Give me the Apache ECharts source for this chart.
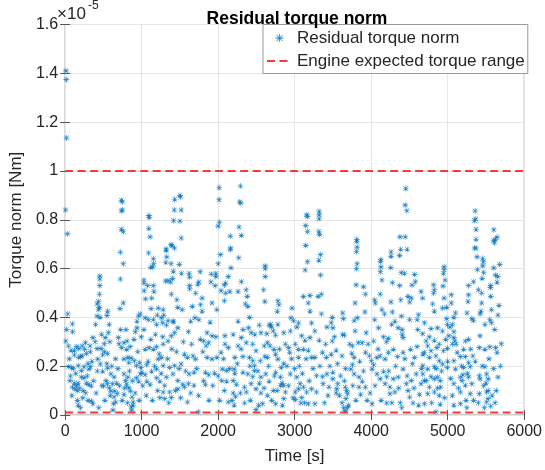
<!DOCTYPE html>
<html><head><meta charset="utf-8">
<script src="https://cdn.jsdelivr.net/npm/echarts@6/dist/echarts.min.js"></script>
<style>html,body{margin:0;padding:0;background:#fff}#c{width:545px;height:470px}</style>
</head><body><div id="c"></div>
<script>
// Residual torque norm samples: [time s, torque norm in units of 1e-5 Nm]
const residualSamples = [
[10,1.41],[15,1.374],[18,1.135],[5,0.84],[30,0.742],
[735,0.88],[748,0.873],[735,0.836],[748,0.84],[735,0.761],[760,0.752],[722,0.667],[760,0.62],[722,0.557],
[453,0.569],[453,0.557],[453,0.53],
[1094,0.817],[1098,0.81],[1094,0.765],[1111,0.73],[1090,0.664],[1154,0.641],[1158,0.62],[1145,0.607],[1120,0.605],[1030,0.553],[1030,0.54],[1080,0.53],[1154,0.53],
[1320,0.68],[1320,0.675],[1328,0.648],[1316,0.625],[1385,0.698],[1398,0.693],[1430,0.684],[1385,0.62],[1414,0.589],[1405,0.56],[1380,0.545],[1312,0.549],[1345,0.55],
[1432,0.884],[1500,0.9],[1508,0.893],[1427,0.84],[1517,0.84],[1419,0.796],[1500,0.794],[1517,0.725],[1492,0.617],[1520,0.58],[1620,0.58],[1628,0.565],[1628,0.53],
[2013,0.932],[2013,0.882],[2017,0.79],[2000,0.774],[2291,0.938],[2282,0.873],[2295,0.868],[2273,0.77],[2158,0.733],[2303,0.736],[2163,0.684],[2158,0.678],[2030,0.657],[2269,0.644],[2000,0.62],[2167,0.603],[2615,0.611],[2615,0.6],[2615,0.567],
[1765,0.587],[1910,0.577],[1970,0.58],[1970,0.567],[2132,0.567],[1748,0.545],[1905,0.545],[2098,0.54],[2303,0.546],[1961,0.53],[1735,0.535],
[3158,0.82],[3167,0.813],[3145,0.776],[3167,0.752],[3320,0.834],[3320,0.82],[3320,0.805],[3316,0.752],[3325,0.74],[3145,0.695],[3338,0.657],[3167,0.628],[3316,0.634],[3137,0.594],[3338,0.573],
[3812,0.72],[3812,0.712],[3816,0.688],[3808,0.67],[3816,0.62],[3808,0.6],[3803,0.533],[3900,0.525],
[4453,0.928],[4445,0.86],[4466,0.837],[4376,0.73],[4445,0.73],[4470,0.679],[4385,0.679],[4260,0.668],[4260,0.65],[4372,0.654],[4128,0.637],[4120,0.63],[4128,0.607],[4256,0.604],[4120,0.587],[4393,0.583],[4436,0.58],[4568,0.576],[4577,0.546],[4277,0.542],[4141,0.553],[4372,0.53],[4534,0.532],
[4953,0.607],[4953,0.595],[4945,0.58],[4966,0.553],[4816,0.533],[4940,0.528],
[5359,0.836],[5367,0.803],[5350,0.797],[5371,0.76],[5371,0.72],[5350,0.684],[5371,0.684],[5384,0.648],[5458,0.641],[5466,0.628],[5458,0.611],[5389,0.596],[5470,0.584],[5450,0.56],[5338,0.546],
[5603,0.759],[5598,0.715],[5624,0.72],[5645,0.729],[5612,0.705],[5680,0.617],[5603,0.603],[5624,0.573],[5654,0.567],[5645,0.544],[5560,0.53],[5273,0.53],
[448,0.495],[435,0.465],[418,0.455],[448,0.441],[435,0.432],[418,0.405],[457,0.4],[397,0.371],
[717,0.436],[760,0.459],[555,0.425],[547,0.407],[576,0.371],
[34,0.414],[94,0.373],[98,0.341],
[1033,0.509],[1050,0.476],[1161,0.506],[1131,0.479],
[1388,0.495],[1460,0.472],[1529,0.432],[1473,0.441],[1281,0.432],[1217,0.438],[1123,0.436],
[1046,0.398],[1089,0.391],[1153,0.391],[1204,0.409],[1260,0.398],[1290,0.409],[1345,0.387],[1418,0.384],
[9,0.303],[43,0.283],[77,0.265],[120,0.265],[149,0.28],[179,0.272],[222,0.283],[265,0.296],[325,0.283],[363,0.317],[393,0.3],[418,0.272],
[120,0.246],[179,0.236],[222,0.242],[278,0.252],[329,0.26],[470,0.272],[512,0.26],[555,0.252],[491,0.246],
[564,0.337],[525,0.317],[512,0.292],[696,0.317],[704,0.292],[739,0.276],[769,0.296],[811,0.303],[803,0.269],
[939,0.384],[961,0.405],[982,0.414],[939,0.357],[918,0.341],
[1196,0.371],[1272,0.378],[1324,0.368],[1409,0.382],[1473,0.357],[1430,0.337],[1388,0.324],[1345,0.303],[1281,0.29],
[1046,0.269],[1097,0.276],[1153,0.269],[1196,0.279],[1260,0.236],[1217,0.229],[1559,0.249],
[769,0.229],[820,0.236],[833,0.215],[863,0.233],[905,0.222],[931,0.202],[973,0.215],[990,0.195],
[43,0.198],[85,0.195],[171,0.202],[248,0.198],[299,0.211],[333,0.198],[312,0.188],[427,0.229],[461,0.209],
[213,0.182],[64,0.141],[120,0.13],[149,0.121],[171,0.13],[94,0.114],[128,0.107],[162,0.1],[213,0.155],[248,0.152],[278,0.13],[312,0.125],[342,0.118],[235,0.1],[269,0.091],[171,0.04],[201,0.03],[342,0.057],[363,0.046],
[491,0.179],[555,0.192],[598,0.168],[640,0.155],[534,0.141],[555,0.128],[504,0.119],[576,0.111],[619,0.128],[649,0.098],[589,0.08],[640,0.074],[662,0.053],[632,0.046],[598,0.098],[675,0.13],[683,0.087],
[769,0.168],[820,0.155],[790,0.141],[803,0.125],[833,0.111],[854,0.098],[769,0.084],[875,0.073],[888,0.053],[862,0.033],[888,0.04],
[982,0.168],[1003,0.175],[931,0.152],[961,0.138],
[1067,0.206],[1131,0.179],[1196,0.188],[1281,0.202],[1366,0.195],[1430,0.202],[1516,0.209],
[1046,0.165],[1067,0.138],[1110,0.125],[1196,0.152],[1238,0.138],[1324,0.155],[1409,0.168],[1473,0.141],[1537,0.125],
[1281,0.094],[1366,0.094],[1473,0.107],[1559,0.114],[1238,0.071],[1302,0.067],[1388,0.071],
[2081,0.533],
[1628,0.517],[1705,0.499],[1790,0.479],[1769,0.452],[1919,0.459],[1983,0.432],[2038,0.509],[2098,0.499],[2153,0.506],[2260,0.506],[2367,0.513],[2380,0.486],[2354,0.455],[2388,0.445],[2081,0.468],[2610,0.465],[2781,0.468],[2794,0.452],[2773,0.425],[2593,0.513],[3114,0.486],[3200,0.49],[3178,0.459],[3200,0.425],[2965,0.438],
[1641,0.384],[1697,0.398],[1748,0.391],[1790,0.425],[1662,0.445],[1611,0.341],[2260,0.384],[2410,0.4],[2538,0.368],[2687,0.371],[2696,0.36],[2666,0.368],[2781,0.371],[2952,0.398],[2986,0.387],[3050,0.377],[3221,0.377],
[1855,0.337],[1769,0.31],[1812,0.303],[1876,0.296],[1842,0.283],[1919,0.324],[1970,0.32],[2089,0.324],[2196,0.33],[2303,0.317],[2324,0.35],[2397,0.357],[2431,0.337],[2559,0.337],[2636,0.333],[2721,0.344],[2751,0.327],[2858,0.337],[2943,0.344],[3092,0.324],[3135,0.306],[3200,0.317],
[1654,0.29],[2089,0.29],[2132,0.276],[2260,0.283],[2367,0.296],[2452,0.29],[2495,0.263],[2602,0.283],[2644,0.296],[2679,0.283],[2730,0.269],[2751,0.249],[2781,0.229],[2879,0.29],[2922,0.276],[2935,0.256],[3008,0.29],[3050,0.269],[3114,0.269],[3178,0.265],
[1598,0.236],[1671,0.242],[1705,0.229],[1855,0.236],[1919,0.229],[1983,0.236],[2038,0.256],[2218,0.236],[2324,0.239],[2410,0.236],[2452,0.222],[2474,0.202],[2551,0.222],[2644,0.236],[2858,0.211],[2824,0.195],[3050,0.236],[3221,0.236],
[1620,0.168],[1684,0.175],[1833,0.175],[1876,0.165],[1953,0.171],[1611,0.128],[1684,0.121],[1833,0.125],[2055,0.188],[2111,0.182],[2209,0.188],[2218,0.171],[2324,0.175],[2388,0.168],[2474,0.182],[2452,0.157],[2559,0.155],[2623,0.168],[2666,0.138],[2751,0.175],[2815,0.155],[2836,0.13],[2858,0.121],[2815,0.121],[2943,0.168],[3028,0.155],[3071,0.128],[3050,0.107],[3008,0.094],[3114,0.114],[3157,0.094],[3221,0.107],
[2047,0.141],[2111,0.138],[2196,0.141],[2239,0.125],[2345,0.114],[2431,0.128],[2538,0.13],[2367,0.094],[2495,0.107],[2559,0.09],[2644,0.08],[2721,0.1],[1641,0.09],[1598,0.053],[2081,0.1],[2196,0.09],[2226,0.076],[2132,0.053],[2209,0.04],[2345,0.049],[2495,0.022],[2580,0.046],[2751,0.046],[2879,0.094],[2858,0.067],[3008,0.063],[3092,0.071],[3080,0.049],[3178,0.046],[1739,0.013],
[3926,0.495],[3307,0.486],[3350,0.495],[3790,0.459],[4046,0.472],[4054,0.459],[4118,0.495],[4259,0.463],[4387,0.472],[4481,0.486],[4524,0.479],[4503,0.463],[4652,0.506],[4673,0.479],
[3350,0.414],[3491,0.4],[3627,0.418],[3636,0.395],[3777,0.387],[3918,0.422],[3819,0.398],[4046,0.391],[4140,0.432],[4174,0.414],[4276,0.422],[4310,0.384],[4396,0.405],[4503,0.391],[4601,0.391],[4618,0.411],
[3264,0.344],[3320,0.306],[3478,0.378],[3422,0.36],[3491,0.303],[3499,0.357],[3627,0.33],[3649,0.327],[3790,0.344],[3935,0.337],[3832,0.296],[3883,0.296],[3755,0.283],[4033,0.303],[4097,0.357],[4161,0.32],[4225,0.314],[4268,0.371],[4353,0.357],[4404,0.35],[4404,0.33],[4417,0.317],[4609,0.35],[4673,0.333],
[3264,0.236],[3363,0.256],[3414,0.236],[3478,0.249],[3542,0.265],[3619,0.242],[3747,0.252],[3777,0.236],[3755,0.206],[3926,0.256],[3977,0.242],[4003,0.222],[4033,0.206],[4076,0.236],[4118,0.242],[4182,0.229],[4225,0.256],[4289,0.269],[4345,0.239],[4417,0.256],[4515,0.269],[4567,0.236],[4695,0.256],
[3286,0.161],[3363,0.157],[3422,0.168],[3499,0.175],[3371,0.128],[3448,0.114],[3286,0.094],[3264,0.046],[3435,0.08],[3499,0.148],[3563,0.128],[3550,0.107],[3542,0.09],[3584,0.08],[3661,0.114],[3691,0.087],[3670,0.067],[3704,0.04],[3661,0.019],
[3734,0.188],[3777,0.168],[3841,0.155],[3883,0.138],[3841,0.114],[3926,0.114],[3862,0.084],[3947,0.06],[4012,0.188],[4076,0.168],[4118,0.148],[4161,0.179],[4203,0.157],[4182,0.128],[4246,0.114],[4289,0.148],[4353,0.155],[4417,0.188],[4460,0.128],[4524,0.141],[4588,0.168],[4652,0.128],[4695,0.141],
[4246,0.087],[4310,0.094],[4203,0.049],[4481,0.1],[4503,0.073],[4546,0.049],[4631,0.084],[4012,0.046],
[4825,0.513],[4816,0.499],[4803,0.455],[4825,0.425],[4953,0.479],[5047,0.492],[5047,0.459],[4987,0.441],[4932,0.438],[5102,0.418],[5081,0.4],[4987,0.395],[5273,0.492],[5265,0.465],[5401,0.513],[5444,0.499],[5559,0.522],[5563,0.486],[5444,0.459],[5435,0.425],[5572,0.432],[5670,0.449],[5657,0.409],
[5252,0.418],[5316,0.395],[5337,0.387],[5423,0.414],[5550,0.391],[5572,0.378],[5487,0.371],[5615,0.35],
[4697,0.378],[4782,0.354],[4867,0.357],[4932,0.344],[5030,0.36],[5060,0.371],[4995,0.371],[5081,0.341],[5017,0.324],
[4718,0.303],[4825,0.306],[4889,0.29],[4859,0.276],[4739,0.283],[4782,0.263],[4974,0.31],[5081,0.317],[5094,0.303],[5060,0.29],[4995,0.273],[4944,0.263],[5230,0.303],[5273,0.31],[5209,0.269],[5423,0.324],[5414,0.276],[5487,0.269],[5550,0.279],[5627,0.276],[5700,0.292],[5645,0.256],
[5124,0.256],[5166,0.239],[5230,0.239],[5329,0.242],[5273,0.215],[5487,0.198],
[4675,0.249],[4761,0.236],[4846,0.242],[4889,0.222],[4932,0.209],[4825,0.198],[4739,0.188],[4675,0.202],[5081,0.222],[5102,0.188],[4995,0.195],[5209,0.195],[5295,0.198],
[4675,0.168],[4718,0.141],[4782,0.157],[4825,0.148],[4867,0.155],[4902,0.141],[4910,0.114],[4761,0.114],[4825,0.094],[4739,0.087],[4889,0.08],[4697,0.046],[4902,0.044],
[5081,0.128],[5166,0.155],[5188,0.141],[5200,0.165],[5273,0.155],[5230,0.121],[5316,0.128],[5295,0.087],[5166,0.094],[5166,0.046],[5081,0.04],
[5414,0.161],[5423,0.148],[5509,0.168],[5529,0.148],[5500,0.13],[5657,0.155],[5636,0.1],[5529,0.1],[5508,0.094],[5414,0.087],[5529,0.067],[5508,0.053],[5563,0.036],[4846,0.013],
[20,0.35],[55,0.23],[70,0.16],[88,0.08],[105,0.19],[140,0.17],[160,0.06],[190,0.11],[205,0.24],[230,0.07],[255,0.27],[290,0.16],[300,0.06],[350,0.22],[372,0.14],[405,0.09],[420,0.18],[440,0.03],[475,0.33],[480,0.12],
[520,0.06],[545,0.21],[585,0.3],[610,0.2],[625,0.02],[660,0.23],[690,0.19],[710,0.12],[725,0.35],[745,0.06],[780,0.11],[795,0.35],[815,0.05],[840,0.18],[850,0.28],[870,0.02],[880,0.14],[900,0.31],[915,0.09],[950,0.26],[968,0.06],[995,0.32],
[1015,0.12],[1030,0.35],[1060,0.08],[1085,0.22],[1120,0.31],[1140,0.06],[1170,0.2],[1180,0.33],[1210,0.1],[1230,0.25],[1255,0.17],[1275,0.32],[1300,0.12],[1340,0.23],[1355,0.05],[1395,0.27],[1440,0.1],[1455,0.26],[1490,0.19],[1510,0.07],[1545,0.3],[1575,0.18],
[1720,0.19],[1745,0.08],[1800,0.26],[1810,0.14],[1880,0.06],[1895,0.38],[1930,0.12],[2000,0.16],[2020,0.06],[2070,0.23],[2150,0.19],[2180,0.06],[2250,0.21],[2290,0.09],[2300,0.27],[2415,0.2],[2420,0.06],[2480,0.33],[2520,0.18],[2530,0.04],[2600,0.11],[2610,0.24],
[2660,0.2],[2700,0.06],[2735,0.16],[2770,0.1],[2800,0.27],[2840,0.04],[2900,0.2],[2920,0.12],[2960,0.23],[2980,0.07],[3000,0.19],[3030,0.36],[3060,0.2],[3100,0.17],[3130,0.05],[3150,0.23],[3190,0.14],[3240,0.19],
[3330,0.2],[3390,0.05],[3405,0.29],[3460,0.2],[3520,0.32],[3560,0.21],[3600,0.16],[3620,0.05],[3640,0.03],[3650,0.14],[3665,0.19],[3680,0.1],[3690,0.03],[3720,0.29],[3760,0.12],[3800,0.06],[3850,0.22],[3900,0.18],[3960,0.29],[3985,0.09],
[4050,0.12],[4090,0.27],[4130,0.06],[4200,0.3],[4230,0.18],[4270,0.05],[4320,0.2],[4360,0.11],[4380,0.05],[4400,0.03],[4440,0.23],[4470,0.16],[4540,0.21],[4560,0.11],[4600,0.28],[4620,0.04],[4660,0.19],
[4760,0.32],[4790,0.05],[4850,0.19],[4870,0.11],[4920,0.18],[4960,0.07],[5000,0.22],[5040,0.15],[5060,0.08],[5110,0.29],[5140,0.11],[5180,0.2],[5240,0.06],[5250,0.03],[5260,0.17],[5300,0.27],[5340,0.06],[5360,0.22],[5400,0.05],[5450,0.2],[5470,0.12],[5480,0.03],[5540,0.23],[5580,0.08],[5600,0.19],[5620,0.05],[5690,0.2]
];
// Engine expected torque range limits (units of 1e-5 Nm)
const rangeUpper = 1.0;
const rangeLower = 0.01;
const timeRange = [0, 6000];
const timeTicks = [0, 1000, 2000, 3000, 4000, 5000, 6000];
const torqueTicks = [0, 0.2, 0.4, 0.6, 0.8, 1.0, 1.2, 1.4, 1.6];

const FONT = 'Liberation Sans, Arial, Helvetica, sans-serif';
const TXT = '#262626';
const asterisk = 'path://M4.5 0 L5.5 0 L5.5 10 L4.5 10 Z M0 4.5 L10 4.5 L10 5.5 L0 5.5 Z M1 1.7 L1.7 1 L9 8.3 L8.3 9 Z M9 1.7 L1.7 9 L1 8.3 L8.3 1 Z';

const chart = echarts.init(document.getElementById('c'), null, {renderer: 'canvas'});
const gridL = 57, gridT = 24.5, gridRight = 527, gridBottom = 418;
const limitLine = (v) => [[timeRange[0], v], [timeRange[1], v]];
const RED = '#f23c3c';
const redStyle = {color: RED, width: 2, type: [8, 4.5]};
const tickStyle = {show: true, inside: true, length: 5, lineStyle: {color: '#555'}};

chart.setOption({
  animation: false,
  textStyle: {fontFamily: FONT},
  title: {
    text: 'Residual torque norm', left: (gridL + gridRight) / 2, top: 5, textAlign: 'center',
    textStyle: {fontSize: 17.5, fontWeight: 'bold', color: '#000', fontFamily: FONT}
  },
  grid: {left: gridL, top: gridT, right: 545 - gridRight, bottom: 470 - gridBottom, show: true, borderColor: '#999', borderWidth: 1, backgroundColor: '#fff'},
  legend: {
    orient: 'vertical', left: 263, top: gridT, padding: [5, 3, 4, 3], itemGap: 6,
    itemWidth: 25, itemHeight: 8, itemTextGap: 6,
    backgroundColor: '#fff', borderColor: '#999', borderWidth: 1, borderRadius: 0,
    textStyle: {fontSize: 17, color: TXT, fontFamily: FONT},
    data: [
      {name: 'Residual torque norm', icon: asterisk, itemStyle: {color: '#0072BD'}},
      {name: 'Engine expected torque range', itemStyle: {opacity: 0}}
    ]
  },
  xAxis: [{
    type: 'value', min: timeRange[0], max: timeRange[1], interval: 1000,
    axisLine: {show: false}, axisTick: tickStyle,
    splitLine: {show: true, lineStyle: {color: '#e6e6e6', width: 1}},
    axisLabel: {color: TXT, fontSize: 16, margin: 9, fontFamily: FONT,
      formatter: v => timeTicks.includes(v) ? String(v) : ''},
    name: 'Time [s]', nameLocation: 'middle', nameGap: 33,
    nameTextStyle: {fontSize: 17, color: TXT, fontFamily: FONT}
  }, {
    type: 'value', position: 'top', min: timeRange[0], max: timeRange[1], interval: 1000,
    axisLine: {show: false}, axisLabel: {show: false}, splitLine: {show: false}, axisTick: tickStyle
  }],
  yAxis: [{
    type: 'value', min: 0, max: 1.6, interval: 0.2,
    axisLine: {show: false}, axisTick: tickStyle,
    splitLine: {show: true, lineStyle: {color: '#e6e6e6', width: 1}},
    axisLabel: {color: TXT, fontSize: 16, margin: 7, fontFamily: FONT,
      formatter: v => { const t = torqueTicks.find(k => Math.abs(k - v) < 1e-9); return t === undefined ? '' : String(+t.toFixed(1)); }},
    name: 'Torque norm [Nm]', nameLocation: 'middle', nameGap: 30, nameRotate: 90,
    nameTextStyle: {fontSize: 17, color: TXT, fontFamily: FONT}
  }, {
    type: 'value', position: 'right', min: 0, max: 1.6, interval: 0.2,
    axisLine: {show: false}, axisLabel: {show: false}, splitLine: {show: false}, axisTick: tickStyle
  }],
  graphic: [
    {type: 'text', left: gridL, top: 6, style: {text: '×10', fontSize: 17, fill: TXT, fontFamily: FONT}},
    {type: 'text', left: gridL + 31, top: 0, style: {text: '-5', fontSize: 12, fill: TXT, fontFamily: FONT}}
  ],
  series: [
    {
      name: 'Residual torque norm', type: 'scatter', data: residualSamples,
      symbol: asterisk, symbolSize: 6, z: 3,
      itemStyle: {color: '#0072BD', opacity: 0.85},
      emphasis: {disabled: true}, silent: true
    },
    {
      name: 'Engine expected torque range', type: 'line', data: limitLine(rangeUpper),
      symbol: 'none', lineStyle: redStyle, itemStyle: {color: RED}, z: 4, silent: true
    },
    {
      name: 'Engine expected torque range', type: 'line', data: limitLine(rangeLower),
      symbol: 'none', lineStyle: redStyle, itemStyle: {color: RED}, z: 4, silent: true
    }
  ]
});
</script>
</body></html>
